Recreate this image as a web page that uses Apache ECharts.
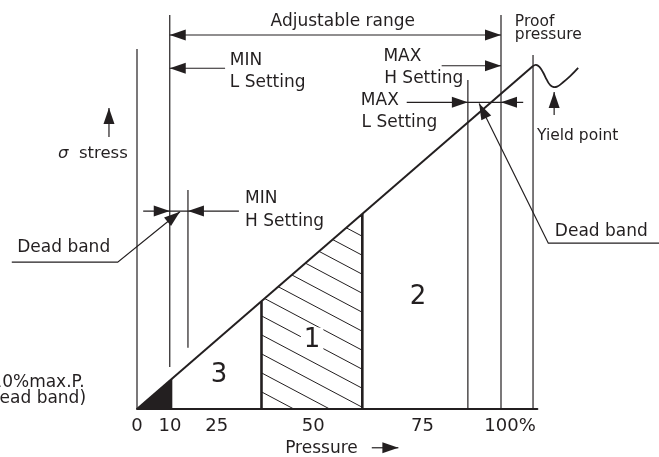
<!DOCTYPE html>
<html><head><meta charset="utf-8">
<script src="https://cdn.jsdelivr.net/npm/echarts@6/dist/echarts.min.js"></script>
<style>html,body{margin:0;padding:0;background:#fff}#c{width:659px;height:457px}</style>
</head><body><div id="c"></div>
<script>
// Schematic: x = pressure (% of max P.), y = stress (same units, elastic line y = x)
const tickPositions = [0, 9.07, 21.9, 48.4, 78.4, 102.5];
const tickLabels = ['0', '10', '25', '50', '75', '100%'];

const elasticLine = [[0, 0], [108.8, 108.8]];
const yieldCurve = [[108.8, 108.8], [109.6, 109.2], [110.5, 108.6], [111.5, 106.9], [112.6, 104.4], [113.5, 102.8], [114.3, 102.2], [115.4, 102.3], [116.8, 103.4], [119.0, 105.6], [121.2, 108.2]];

// vertical reference lines: [x, yFrom, yTo]
const stressAxis = [0, 0, 114.2];
const settingLines = [
  [9.0, 13.3, 125],    // MIN L setting
  [14.0, 19.4, 69.5],  // MIN H setting
  [90.9, 0, 104.4],    // MAX L setting
  [100, 0, 125],       // 100% (MAX H setting)
  [108.8, 0, 112.3]    // proof pressure
];
const zone1 = [34.2, 61.9];   // hatched zone limits (x)
const zone3Black = 9.7;       // black dead-band zone limit (x)

// dimension lines: [y, xFrom, xTo]
const dimLines = [
  [118.65, 9.0, 100],   // adjustable range
  [108.1, 24.2, 9.0],   // MIN L setting
  [108.9, 83.7, 100],   // MAX H setting
  [97.3, 74.1, 106.1],  // MAX L setting / dead band
  [62.8, 1.7, 28.0]     // MIN H setting / dead band
];
// arrow heads: [tipX, tipY, fromX, fromY]
const dimArrows = [
  [9.0, 118.65, 100, 118.65], [100, 118.65, 9.0, 118.65],
  [9.0, 108.1, 24.2, 108.1],
  [100, 108.9, 83.7, 108.9],
  [90.9, 97.3, 74.1, 97.3], [100, 97.3, 106.1, 97.3],
  [9.0, 62.8, 1.7, 62.8], [14.0, 62.8, 28.0, 62.8]
];
// leader lines (dead band pointers, yield point, axis arrows)
const leaders = [
  [[11.8, 62.6], [-5.3, 46.6], [-34.4, 46.6]],
  [[94.0, 96.9], [113.0, 52.6], [146, 52.6]],
  [[114.6, 100.6], [114.6, 93.3]],
  [[-7.7, 95.5], [-7.7, 86.3]],
  [[71.8, -12.3], [64.5, -12.3]]
];

// annotations: [text, x, y, align]
const mainTexts = [
  ['Adjustable range', 36.7, 122.8, 'left'],
  ['MIN', 25.5, 110.6, 'left'],
  ['L Setting', 25.5, 103.6, 'left'],
  ['MAX', 67.7, 111.7, 'left'],
  ['H Setting', 67.9, 104.7, 'left'],
  ['MAX', 61.5, 97.8, 'left'],
  ['L Setting', 61.7, 90.8, 'left'],
  ['MIN', 29.7, 66.6, 'left'],
  ['H Setting', 29.7, 59.6, 'left'],
  ['Dead band', -32.9, 51.3, 'left'],
  ['Dead band', 114.8, 56.4, 'left'],
  ['10%max.P.', -14.4, 8.5, 'right'],
  ['(Dead band)', -14.0, 3.2, 'right'],
  ['Pressure', 40.7, -12.4, 'left']
];
const noteTexts = [
  ['Proof', 103.8, 122.8],
  ['pressure', 103.8, 118.6],
  ['Yield point', 109.9, 86.6]
];
const stressLabel = ['σ', 'stress', -21.7, 81.1];
const zoneTexts = [['1', 48.1, 21.7], ['2', 77.2, 35.3], ['3', 22.5, 10.6]];

const INK = '#231f20';
const FONT = 'DejaVu Sans';

function custom(items, draw) {
  return {
    type: 'custom', coordinateSystem: 'cartesian2d', clip: false, silent: true, animation: false,
    data: items.map((_, i) => [0, 0, i]),
    renderItem: (params, api) => draw(items[params.dataIndex], api)
  };
}
function poly(points, api, width, smooth) {
  return { type: 'polyline', shape: { points: points.map(p => api.coord(p)), smooth: smooth || 0 },
    style: { stroke: INK, lineWidth: width, fill: null, lineJoin: 'miter' } };
}
function head(tip, from, api, len, half) {
  const t = api.coord(tip), f = api.coord(from);
  const dx = t[0] - f[0], dy = t[1] - f[1], d = Math.hypot(dx, dy);
  const ux = dx / d, uy = dy / d;
  const bx = t[0] - ux * len, by = t[1] - uy * len;
  return { type: 'polygon', shape: { points: [t, [bx - uy * half, by + ux * half], [bx + uy * half, by - ux * half]] },
    style: { fill: INK } };
}
function text(str, x, y, api, size, align, extra) {
  const p = api.coord([x, y]);
  return { type: 'text', x: p[0], y: p[1],
    style: Object.assign({ text: str, fill: INK, fontSize: size, fontFamily: FONT,
      align: align || 'left', verticalAlign: 'middle' }, extra || {}) };
}

const series = [];
// hatched zone 1
series.push(custom([zone1], (z, api) => {
  const pts = [[z[0], 0], [z[1], 0], [z[1], z[1]], [z[0], z[0]]].map(p => api.coord(p));
  const L = pts[0][0], R = pts[1][0], B = pts[0][1];
  const children = [];
  for (let k = -20; k <= 4; k++) {
    const yR = B - 20.7 + k * 19;
    children.push({ type: 'line', shape: { x1: R + 5, y1: yR + 5 * 0.53, x2: L - 5, y2: yR - (R - L + 5) * 0.53 },
      style: { stroke: INK, lineWidth: 1 } });
  }
  return { type: 'group', children: children, clipPath: { type: 'polygon', shape: { points: pts } } };
}));
// black zone
series.push(custom([zone3Black], (x, api) => ({
  type: 'polygon', shape: { points: [[0, 0], [x, 0], [x, x]].map(p => api.coord(p)) }, style: { fill: INK }
})));
// zone borders (thick)
series.push(custom(zone1, (x, api) => poly([[x, 0], [x, x]], api, 2.6)));
// thin vertical lines
series.push(custom([stressAxis].concat(settingLines), (l, api) => poly([[l[0], l[1]], [l[0], l[2]]], api, 1.2)));
// elastic line + yield curve
series.push(custom([elasticLine], (l, api) => poly(l, api, 2)));
series.push(custom([yieldCurve], (l, api) => poly(l, api, 1.8, 0.5)));
// dimension lines
series.push(custom(dimLines, (d, api) => poly([[d[1], d[0]], [d[2], d[0]]], api, 1.2)));
series.push(custom(dimArrows, (a, api) => head([a[0], a[1]], [a[2], a[3]], api, 16, 5.5)));
// leaders
series.push(custom(leaders, (l, api) => poly(l, api, 1.2)));
series.push(custom(leaders, (l, api) => head(l[0], l[1], api, 16, 5.5)));
// texts
series.push(custom(mainTexts, (t, api) => text(t[0], t[1], t[2], api, 17, t[3])));
series.push(custom(noteTexts, (t, api) => text(t[0], t[1], t[2], api, 15.5, 'left')));
series.push(custom([stressLabel], (t, api) => text('{i|' + t[0] + '}  ' + t[1], t[2], t[3], api, 16.5, 'left',
  { rich: { i: { fontStyle: 'italic', fontSize: 16.5, fontFamily: FONT, fill: INK } } })));
series.push(custom(zoneTexts, (t, api) => text(t[0], t[1], t[2], api, 26, 'center',
  { backgroundColor: '#fff', padding: [0, 3] })));

const chart = echarts.init(document.getElementById('c'), null, { renderer: 'canvas' });
chart.setOption({
  animation: false,
  backgroundColor: '#fff',
  grid: { left: 137, top: 15, width: 400.4, height: 394, containLabel: false, outerBoundsMode: 'none' },
  xAxis: {
    type: 'value', min: 0, max: 110,
    axisLine: { show: true, lineStyle: { color: INK, width: 2 } },
    axisTick: { show: false },
    splitLine: { show: false },
    axisLabel: {
      customValues: tickPositions,
      formatter: v => tickLabels[tickPositions.indexOf(v)],
      color: INK, fontSize: 18, fontFamily: FONT, margin: 8
    }
  },
  yAxis: { type: 'value', min: 0, max: 125, show: false },
  series: series
});
</script></body></html>
